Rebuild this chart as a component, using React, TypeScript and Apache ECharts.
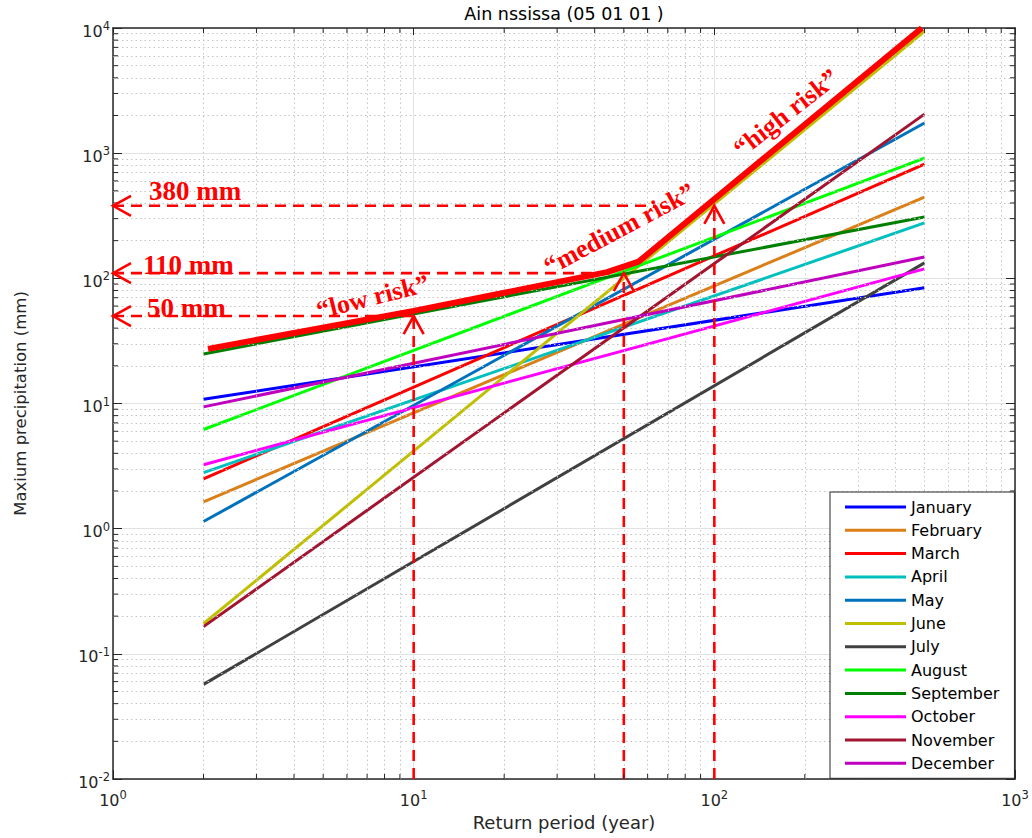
import React, { useEffect, useRef } from 'react';
import * as echarts from 'echarts';

// ---------- data ----------
const months = ['January', 'February', 'March', 'April', 'May', 'June', 'July', 'August', 'September', 'October', 'November', 'December'];
const monthColors = ['#0000FF', '#DB7F17', '#FF0000', '#00BFBF', '#0072BD', '#BFBF00', '#404040', '#00FF00', '#008000', '#FF00FF', '#A2142F', '#BF00BF'];
const returnPeriods = [2, 500];
const valuesAt2 = [10.8, 1.64, 2.5, 2.8, 1.14, 0.174, 0.057, 6.2, 24.9, 3.24, 0.165, 9.4];
const valuesAt500 = [84, 446, 818, 277, 1740, 9420, 133, 913, 309, 119, 2050, 148];

const riskPeriods = [2.07, 10, 44, 56, 490];
const riskValues = [27.3, 55, 112, 136, 10000];

const thresholdLabels = ['380 mm', '110 mm', '50 mm'];
const thresholdValues = [380, 110, 50];
const thresholdPeriods = [100, 50, 10];
const horizontalEnds = [64, 45, 10];

const riskLabels = ['\u201Clow risk\u201D', '\u201Cmedium risk\u201D', '\u201Chigh risk\u201D'];
const riskLabelAnchorX = [7.31, 48.3, 173];
const riskLabelAnchorY = [71.1, 248, 2090];
const riskLabelAngles = [14, 28, 38];

const xRange = [1, 1000];
const yRange = [0.01, 10000];

const SANS = '"DejaVu Sans", sans-serif';
const SERIF = '"Liberation Serif", "Times New Roman", serif';
const AX = '#262626';

function minorValues(lo: number, hi: number): number[] {
  const out: number[] = [];
  for (let d = lo; d < hi; d *= 10) {
    for (let k = 2; k <= 9; k++) out.push(+(d * k).toPrecision(6));
  }
  return out;
}

const fmt = (v: number) => {
  const e = Math.round(Math.log10(v));
  return `{b|10}{s|${e}}`;
};
const rich = {
  b: { fontSize: 16, lineHeight: 22, fontFamily: SANS, color: AX },
  s: { fontSize: 11.5, lineHeight: 12, verticalAlign: 'top', fontFamily: SANS, color: AX },
};

export default function App() {
  const ref = useRef<HTMLDivElement>(null);
  useEffect(() => {
    const el = ref.current!;
    const chart = echarts.init(el, undefined, { renderer: 'svg' });
    const xMinor = minorValues(xRange[0], xRange[1]);
    const yMinor = minorValues(yRange[0], yRange[1]);

    const monthSeries = months.map((m, i) => ({
      name: m,
      type: 'line',
      data: [[returnPeriods[0], valuesAt2[i]], [returnPeriods[1], valuesAt500[i]]],
      color: monthColors[i],
      lineStyle: { width: 3, color: monthColors[i] },
      symbol: 'none',
      z: 3,
      silent: true,
      emphasis: { disabled: true },
    }));

    const dash = { width: 2.6, color: '#FF0000', type: [11, 7] as any };
    const hLines = thresholdValues.map((v, i) => ({
      name: 'h' + i,
      type: 'line',
      data: [[xRange[0], v], [horizontalEnds[i], v]],
      lineStyle: dash,
      symbol: 'none',
      z: 6,
      silent: true,
      emphasis: { disabled: true },
    }));
    const vLines = thresholdValues.map((v, i) => ({
      name: 'v' + i,
      type: 'line',
      data: [[thresholdPeriods[i], yRange[0]], [thresholdPeriods[i], v]],
      lineStyle: dash,
      symbol: 'none',
      z: 6,
      silent: true,
      emphasis: { disabled: true },
    }));

    const gridSeries = {
      name: 'minorgrid',
      type: 'line',
      data: [[xRange[0], yRange[0]]],
      symbol: 'none',
      lineStyle: { opacity: 0 },
      z: 1,
      silent: true,
      markLine: {
        silent: true,
        symbol: ['none', 'none'],
        label: { show: false },
        emphasis: { disabled: true },
        lineStyle: { type: [1.5, 3] as any, color: '#c4c4c4', width: 1 },
        data: [...xMinor.map((v) => ({ xAxis: v })), ...yMinor.map((v) => ({ yAxis: v }))],
      },
    };

    const logAxisBase = (pos: string) => ({
      type: 'log',
      logBase: 10,
      position: pos,
      axisLine: { show: true, lineStyle: { color: AX, width: 1.5 } },
      axisTick: { show: true, inside: true, length: 9, lineStyle: { color: AX, width: 1 } },
    });

    chart.setOption({
      animation: false,
      backgroundColor: '#ffffff',
      grid: { left: 113, right: 17, top: 27, bottom: 59, containLabel: false },
      xAxis: [
        {
          ...logAxisBase('bottom'),
          min: xRange[0],
          max: xRange[1],
          axisLabel: { formatter: fmt, rich, margin: 10 },
          splitLine: { show: true, lineStyle: { color: '#e2e2e2', width: 1 } },
          name: 'Return period (year)',
          nameLocation: 'middle',
          nameGap: 34,
          nameMoveOverlap: false,
          nameTextStyle: { fontFamily: SANS, fontSize: 18, color: AX },
        },
        {
          ...logAxisBase('top'),
          min: xRange[0],
          max: xRange[1],
          axisTick: { show: true, inside: true, length: 7, lineStyle: { color: AX, width: 1 } },
          axisLabel: { show: false },
          splitLine: { show: false },
          name: 'Ain nssissa (05 01 01 )',
          nameLocation: 'middle',
          nameGap: 5,
          nameMoveOverlap: false,
          nameTextStyle: { fontFamily: SANS, fontSize: 17.5, color: '#000' },
        },
      ],
      yAxis: [
        {
          ...logAxisBase('left'),
          min: yRange[0],
          max: yRange[1],
          axisLabel: { formatter: fmt, rich, margin: 3, padding: [6, 0, 0, 0] },
          splitLine: { show: true, lineStyle: { color: '#e2e2e2', width: 1 } },
          name: 'Maxium precipitation (mm)',
          nameLocation: 'middle',
          nameGap: 84,
          nameMoveOverlap: false,
          nameTextStyle: { fontFamily: SANS, fontSize: 16.5, color: AX },
        },
        {
          ...logAxisBase('right'),
          min: yRange[0],
          max: yRange[1],
          axisLabel: { show: false },
          splitLine: { show: false },
        },
      ],
      legend: {
        data: months,
        orient: 'vertical',
        left: 830,
        top: 492,
        icon: 'rect',
        itemWidth: 61,
        itemHeight: 3,
        itemGap: 3.3,
        itemTextGap: 6,
        padding: [5, 15, 5, 15],
        backgroundColor: '#ffffff',
        borderColor: AX,
        borderWidth: 1,
        borderRadius: 0,
        selectedMode: false,
        z: 20,
        textStyle: { fontFamily: SANS, fontSize: 16, color: '#000', lineHeight: 20 },
      },
      series: [
        gridSeries,
        ...monthSeries,
        {
          name: 'risk',
          type: 'line',
          data: riskPeriods.map((x, i) => [x, riskValues[i]]),
          lineStyle: { width: 6, color: '#FF0000' },
          color: '#FF0000',
          symbol: 'none',
          z: 5,
          silent: true,
          emphasis: { disabled: true },
        },
        ...hLines,
        ...vLines,
      ],
    } as any);

    // ---------- decorations computed through the axes ----------
    const px = (x: number, y: number) => chart.convertToPixel({ gridIndex: 0 }, [x, y]) as number[];
    const [left, bottom] = px(xRange[0], yRange[0]);
    const [right, top] = px(xRange[1], yRange[1]);
    const g: any[] = [];
    const tickStyle = { stroke: AX, lineWidth: 1 };
    xMinor.forEach((v) => {
      const x = px(v, yRange[0])[0];
      g.push({ type: 'line', silent: true, z: 10, shape: { x1: x, y1: bottom, x2: x, y2: bottom - 5 }, style: tickStyle });
      g.push({ type: 'line', silent: true, z: 10, shape: { x1: x, y1: top, x2: x, y2: top + 5 }, style: tickStyle });
    });
    yMinor.forEach((v) => {
      const y = px(xRange[0], v)[1];
      g.push({ type: 'line', silent: true, z: 10, shape: { x1: left, y1: y, x2: left + 5, y2: y }, style: tickStyle });
      g.push({ type: 'line', silent: true, z: 10, shape: { x1: right, y1: y, x2: right - 5, y2: y }, style: tickStyle });
    });
    const arrowStyle = { stroke: '#FF0000', lineWidth: 2.6, fill: null };
    const labelDy = [-15, -8.5, -8];
    const labelDx = [36, 30, 34];
    thresholdValues.forEach((v, i) => {
      const [hx, hy] = px(xRange[0], v);
      g.push({ type: 'polyline', silent: true, z: 30, shape: { points: [[hx + 18, hy - 10], [hx, hy], [hx + 18, hy + 10]] }, style: arrowStyle });
      const [vx, vy] = px(thresholdPeriods[i], v);
      g.push({ type: 'polyline', silent: true, z: 30, shape: { points: [[vx - 10, vy + 18], [vx, vy], [vx + 10, vy + 18]] }, style: arrowStyle });
      g.push({
        type: 'text', silent: true, z: 40, x: hx + labelDx[i], y: hy + labelDy[i],
        style: { text: thresholdLabels[i], fill: '#FF0000', fontFamily: SERIF, fontWeight: 'bold', fontSize: 27, align: 'left', verticalAlign: 'middle' },
      });
    });
    riskLabels.forEach((t, i) => {
      const [cx, cy] = px(riskLabelAnchorX[i], riskLabelAnchorY[i]);
      g.push({
        type: 'text', silent: true, z: 40, x: cx, y: cy, rotation: (riskLabelAngles[i] * Math.PI) / 180,
        style: { text: t, fill: '#FF0000', fontFamily: SERIF, fontWeight: 'bold', fontSize: 26, align: 'center', verticalAlign: 'middle' },
      });
    });
    chart.setOption({ graphic: g } as any);

    return () => chart.dispose();
  }, []);
  return <div ref={ref} style={{ position: 'fixed', left: 0, top: 0, width: 1032, height: 838, background: '#fff' }} />;
}
